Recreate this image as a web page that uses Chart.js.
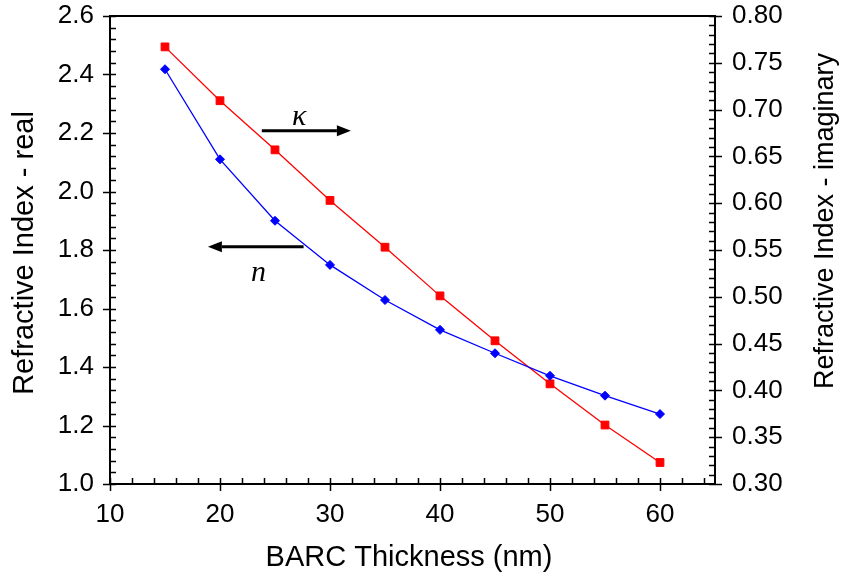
<!DOCTYPE html>
<html>
<head>
<meta charset="utf-8">
<title>Refractive index vs BARC thickness</title>
<script src="https://cdn.jsdelivr.net/npm/chart.js@4.4.0/dist/chart.umd.min.js"></script>
<style>
  html, body { margin: 0; padding: 0; background: #fff; }
</style>
</head>
<body>
<canvas id="chart" width="841" height="577"></canvas>
<script>
// data
const thickness = [15, 20, 25, 30, 35, 40, 45, 50, 55, 60];
const nReal = [2.418, 2.11, 1.90, 1.749, 1.629, 1.527, 1.447, 1.37, 1.302, 1.239];
const kImag = [0.767, 0.7095, 0.657, 0.603, 0.553, 0.501, 0.453, 0.407, 0.363, 0.323];

const xTicks = [10, 20, 30, 40, 50, 60];
const leftTicks = [1.0, 1.2, 1.4, 1.6, 1.8, 2.0, 2.2, 2.4, 2.6];
const rightTicks = [0.30, 0.35, 0.40, 0.45, 0.50, 0.55, 0.60, 0.65, 0.70, 0.75, 0.80];

const FONT = "'Liberation Sans', Arial, sans-serif";
const tickFont = { family: FONT, size: 26 };

// annotation arrows, in data units (x, left axis)
const kArrow = { from: 23.8, to: 31.9, y: 2.208 };
const nArrow = { from: 27.6, to: 18.9, y: 1.811 };

const minorTicks = (lo, hi, step) => {
  const out = [];
  for (let i = 0; lo + i * step <= hi + 1e-9; i++) out.push(lo + i * step);
  return out;
};

// pin the y axes so the plot box sits where the original does
const fixY = w => s => { s.width = w; s.paddingTop = 16; s.paddingBottom = 0; };

const decor = {
  id: 'decor',
  afterDraw(chart) {
    const { ctx, chartArea: a, scales } = chart;
    const x = scales.x, yl = scales.yL, yr = scales.yR;
    ctx.save();
    ctx.strokeStyle = '#000';
    ctx.fillStyle = '#000';

    // top frame line
    ctx.lineWidth = 2;
    ctx.beginPath();
    ctx.moveTo(a.left - 1, a.top);
    ctx.lineTo(a.right + 1, a.top);
    ctx.stroke();

    // tick marks: majors cross the axis, minors point inward
    ctx.lineWidth = 1.5;
    ctx.beginPath();
    minorTicks(10, 64, 2).forEach(v => {
      const px = Math.round(x.getPixelForValue(v)) + 0.5;
      const major = xTicks.includes(v);
      ctx.moveTo(px, a.bottom + (major ? 7 : 0));
      ctx.lineTo(px, a.bottom - 6);
    });
    minorTicks(1.0, 2.6, 0.04).forEach((v, i) => {
      const py = Math.round(yl.getPixelForValue(v)) + 0.5;
      const major = i % 5 === 0;
      ctx.moveTo(a.left - (major ? 7 : 0), py);
      ctx.lineTo(a.left + 6, py);
    });
    minorTicks(0.30, 0.80, 0.01).forEach((v, i) => {
      const py = Math.round(yr.getPixelForValue(v)) + 0.5;
      const major = i % 5 === 0;
      ctx.moveTo(a.right + (major ? 7 : 0), py);
      ctx.lineTo(a.right - 6, py);
    });
    ctx.stroke();

    // axis titles
    ctx.font = `29px ${FONT}`;
    ctx.textAlign = 'center';
    ctx.textBaseline = 'alphabetic';
    ctx.fillText('BARC Thickness (nm)', 409, 566);

    ctx.save();
    ctx.translate(33, 253);
    ctx.rotate(-Math.PI / 2);
    ctx.font = `29px ${FONT}`;
    ctx.fillText('Refractive Index - real', 0, 0);
    ctx.restore();

    ctx.save();
    ctx.translate(833, 221);
    ctx.rotate(-Math.PI / 2);
    ctx.font = `27px ${FONT}`;
    ctx.fillText('Refractive Index - imaginary', 0, 0);
    ctx.restore();

    // arrows
    const arrow = (fromV, toV, yV) => {
      const x1 = x.getPixelForValue(fromV), x2 = x.getPixelForValue(toV);
      const yy = yl.getPixelForValue(yV);
      const dir = Math.sign(x2 - x1);
      const head = 14;
      ctx.lineWidth = 3;
      ctx.beginPath();
      ctx.moveTo(x1, yy);
      ctx.lineTo(x2 - dir * head, yy);
      ctx.stroke();
      ctx.beginPath();
      ctx.moveTo(x2, yy);
      ctx.lineTo(x2 - dir * head, yy - 5.5);
      ctx.lineTo(x2 - dir * head, yy + 5.5);
      ctx.closePath();
      ctx.fill();
    };
    arrow(kArrow.from, kArrow.to, kArrow.y);
    arrow(nArrow.from, nArrow.to, nArrow.y);

    ctx.font = "italic 30px 'Liberation Serif', 'DejaVu Serif', serif";
    ctx.textBaseline = 'middle';
    ctx.fillText('\u03BA', x.getPixelForValue(27.2), yl.getPixelForValue(2.256));
    ctx.fillText('n', x.getPixelForValue(23.5), yl.getPixelForValue(1.722));

    ctx.restore();
  }
};

new Chart(document.getElementById('chart'), {
  type: 'line',
  data: {
    datasets: [
      {
        label: 'n',
        data: thickness.map((t, i) => ({ x: t, y: nReal[i] })),
        yAxisID: 'yL',
        borderColor: '#0000ff',
        backgroundColor: '#0000ff',
        borderWidth: 1.3,
        pointStyle: 'rectRot',
        pointRadius: 4.5,
        pointBorderWidth: 1,
        tension: 0
      },
      {
        label: 'k',
        data: thickness.map((t, i) => ({ x: t, y: kImag[i] })),
        yAxisID: 'yR',
        borderColor: '#ff0000',
        backgroundColor: '#ff0000',
        borderWidth: 1.3,
        pointStyle: 'rect',
        pointRadius: 5.5,
        pointBorderWidth: 1,
        tension: 0
      }
    ]
  },
  plugins: [decor],
  options: {
    responsive: false,
    animation: false,
    layout: { padding: 0 },
    plugins: { legend: { display: false }, tooltip: { enabled: false } },
    scales: {
      x: {
        type: 'linear',
        min: 10,
        max: 65,
        afterBuildTicks: s => { s.ticks = xTicks.map(v => ({ value: v })); },
        afterFit: s => { s.height = 93; },
        grid: { display: false, drawTicks: false },
        border: { display: true, color: '#000', width: 2 },
        ticks: { font: tickFont, color: '#000', padding: 15, maxRotation: 0 }
      },
      yL: {
        type: 'linear',
        position: 'left',
        min: 1.0,
        max: 2.6,
        afterBuildTicks: s => { s.ticks = leftTicks.map(v => ({ value: v })); },
        afterFit: fixY(110),
        grid: { display: false, drawTicks: false },
        border: { display: true, color: '#000', width: 2 },
        ticks: { font: tickFont, color: '#000', padding: 16, callback: v => v.toFixed(1) }
      },
      yR: {
        type: 'linear',
        position: 'right',
        min: 0.30,
        max: 0.80,
        afterBuildTicks: s => { s.ticks = rightTicks.map(v => ({ value: v })); },
        afterFit: fixY(126),
        grid: { display: false, drawTicks: false },
        border: { display: true, color: '#000', width: 2 },
        ticks: { font: tickFont, color: '#000', padding: 17, callback: v => v.toFixed(2) }
      }
    }
  }
});
</script>
</body>
</html>
